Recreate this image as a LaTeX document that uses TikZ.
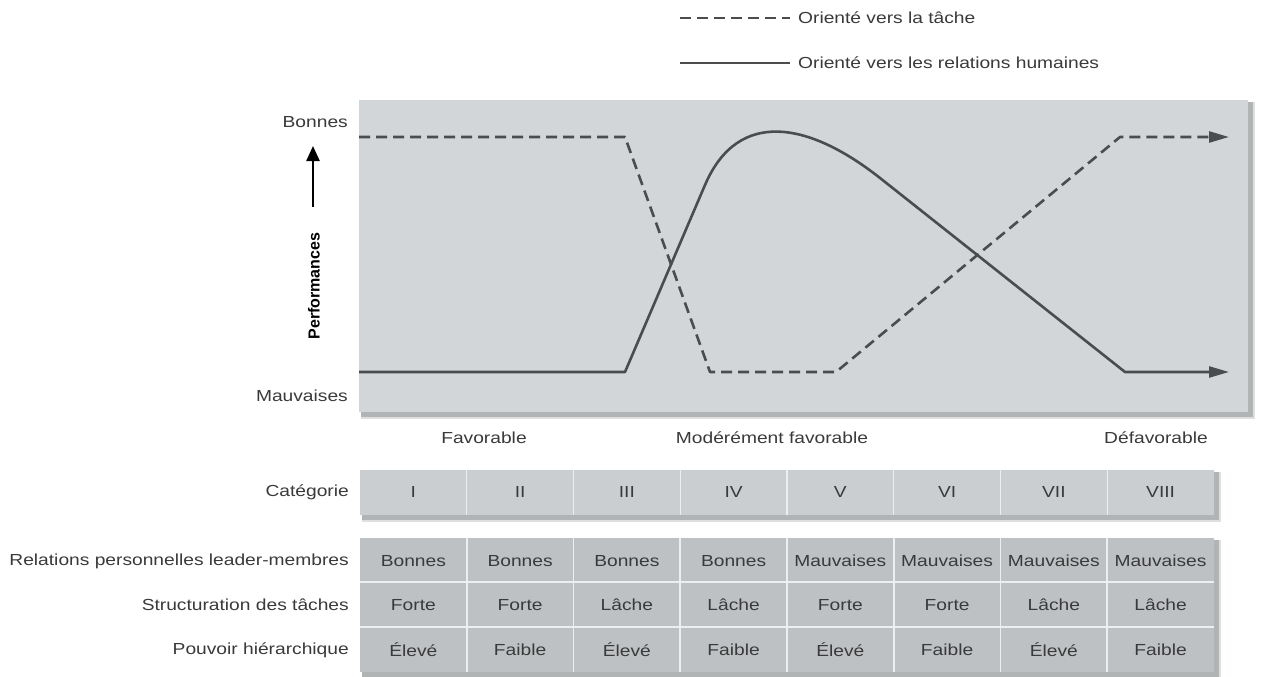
\documentclass[tikz,border=0pt]{standalone}
\usepackage{fontspec}
\setmainfont[FakeStretch=1.2]{Liberation Sans}
\newfontfamily\axisfont{Liberation Sans}
\usetikzlibrary{arrows.meta}
\definecolor{ink}{HTML}{4A4C4E}
\definecolor{plotbg}{HTML}{D3D6D8}
\definecolor{catbg}{HTML}{CBCED1}
\definecolor{tabbg}{HTML}{BEC1C4}
\definecolor{shade}{HTML}{7E8184}
\definecolor{txt}{HTML}{3A3A3A}
\definecolor{rule}{HTML}{ECEEEF}

\begin{document}
\begin{tikzpicture}[x=1pt,y=-1pt,
  lbl/.style={font=\fontsize{16}{19}\selectfont, text=txt, inner sep=0pt},
  curve/.style={line width=2.6pt, draw=ink, line join=round},
  taskline/.style={curve, dash pattern=on 11pt off 6pt},
  tip/.style={-{Triangle[length=20pt,width=11pt]}},
  sep/.style={draw=rule, line width=1.6pt},
]
\useasboundingbox (0,0) rectangle (1262,677);
\fill[white] (0,0) rectangle (1262,677);

% soft drop shadows behind the three panels
\foreach \xa/\ya/\xb/\yb in {359/100/1248/412, 360/470/1214/515, 360/538/1214/672}{
  \fill[shade!25!white] (\xa+2,\ya+2) rectangle (\xb+7,\yb+7);
  \fill[shade!60!white] (\xa+2,\ya+2) rectangle (\xb+5,\yb+5);
}

% graph panel
\fill[plotbg] (359,100) rectangle (1248,412);

% legend
\coordinate (la) at (680,18);
\coordinate (lb) at (790,18);
\coordinate (lc) at (680,63);
\coordinate (ld) at (790,63);
\draw[taskline] (la) -- (lb);
\draw[curve] (lc) -- (ld);
\node[lbl, anchor=west] (legtask) at (798,18) {Orienté vers la tâche};
\node[lbl, anchor=west] (legrel) at (798,63) {Orienté vers les relations humaines};

% vertical axis
\node[lbl, anchor=east] (good) at (348,122) {Bonnes};
\node[lbl, anchor=east] (bad) at (348,396) {Mauvaises};
\node[lbl, rotate=90, font=\axisfont\bfseries\fontsize{16}{19}\selectfont, text=black] (perf) at (314,286) {Performances};
\coordinate (ax0) at (313,207);
\coordinate (ax1) at (313,146);
\draw[line width=2.4pt, black, -{Triangle[length=15pt,width=13pt]}] (ax0) -- (ax1);

% task-oriented leader
\coordinate (t0) at (359,137);
\coordinate (t1) at (625,137);
\coordinate (t2) at (710,372);
\coordinate (t3) at (836,372);
\coordinate (t4) at (1120,137);
\coordinate (t5) at (1229,137);
\draw[taskline, tip] (t0) -- (t1) -- (t2) -- (t3) -- (t4) -- (t5);

% relationship-oriented leader
\coordinate (h0) at (359,372);
\coordinate (h1) at (625,372);
\coordinate (h2) at (705,185);
\coordinate (hc1) at (738,108);
\coordinate (hc2) at (809,122);
\coordinate (h3) at (880,178);
\coordinate (h4) at (1125,372);
\coordinate (h5) at (1229,372);
\draw[curve, tip] (h0) -- (h1) -- (h2) .. controls (hc1) and (hc2) .. (h3) -- (h4) -- (h5);

% situation scale
\node[lbl] (fav) at (484,438) {Favorable};
\node[lbl] (mod) at (772,438) {Modérément favorable};
\node[lbl] (dfav) at (1156,438) {Défavorable};

% category row
\fill[catbg] (360,470) rectangle (1214,515);
\node[lbl, anchor=east] (catlbl) at (349,492) {Catégorie};
\foreach \t [count=\i] in {I,II,III,IV,V,VI,VII,VIII}{
  \node[lbl] (cat\i) at ({360+106.75*(\i-0.5)},492) {\t};
}
\foreach \i in {1,...,7}{
  \draw[sep, line width=1.2pt] ({360+106.75*\i},470) -- ({360+106.75*\i},515);
}

% situational factors table
\fill[tabbg] (360,538) rectangle (1214,672);
\foreach \i in {1,...,7}{
  \draw[sep] ({360+106.75*\i},538) -- ({360+106.75*\i},672);
}
\draw[sep] (360,582) -- (1214,582);
\draw[sep] (360,627) -- (1214,627);

\node[lbl, anchor=east] (rowa) at (349,561) {Relations personnelles leader-membres};
\node[lbl, anchor=east] (rowb) at (349,605) {Structuration des tâches};
\node[lbl, anchor=east] (rowc) at (349,650) {Pouvoir hiérarchique};

\foreach \t [count=\i] in {Bonnes,Bonnes,Bonnes,Bonnes,Mauvaises,Mauvaises,Mauvaises,Mauvaises}{
  \node[lbl] (lm\i) at ({360+106.75*(\i-0.5)},561) {\t};
}
\foreach \t [count=\i] in {Forte,Forte,Lâche,Lâche,Forte,Forte,Lâche,Lâche}{
  \node[lbl] (ts\i) at ({360+106.75*(\i-0.5)},605) {\t};
}
\foreach \t [count=\i] in {Élevé,Faible,Élevé,Faible,Élevé,Faible,Élevé,Faible}{
  \node[lbl] (pw\i) at ({360+106.75*(\i-0.5)},650) {\t};
}
\end{tikzpicture}
\end{document}
